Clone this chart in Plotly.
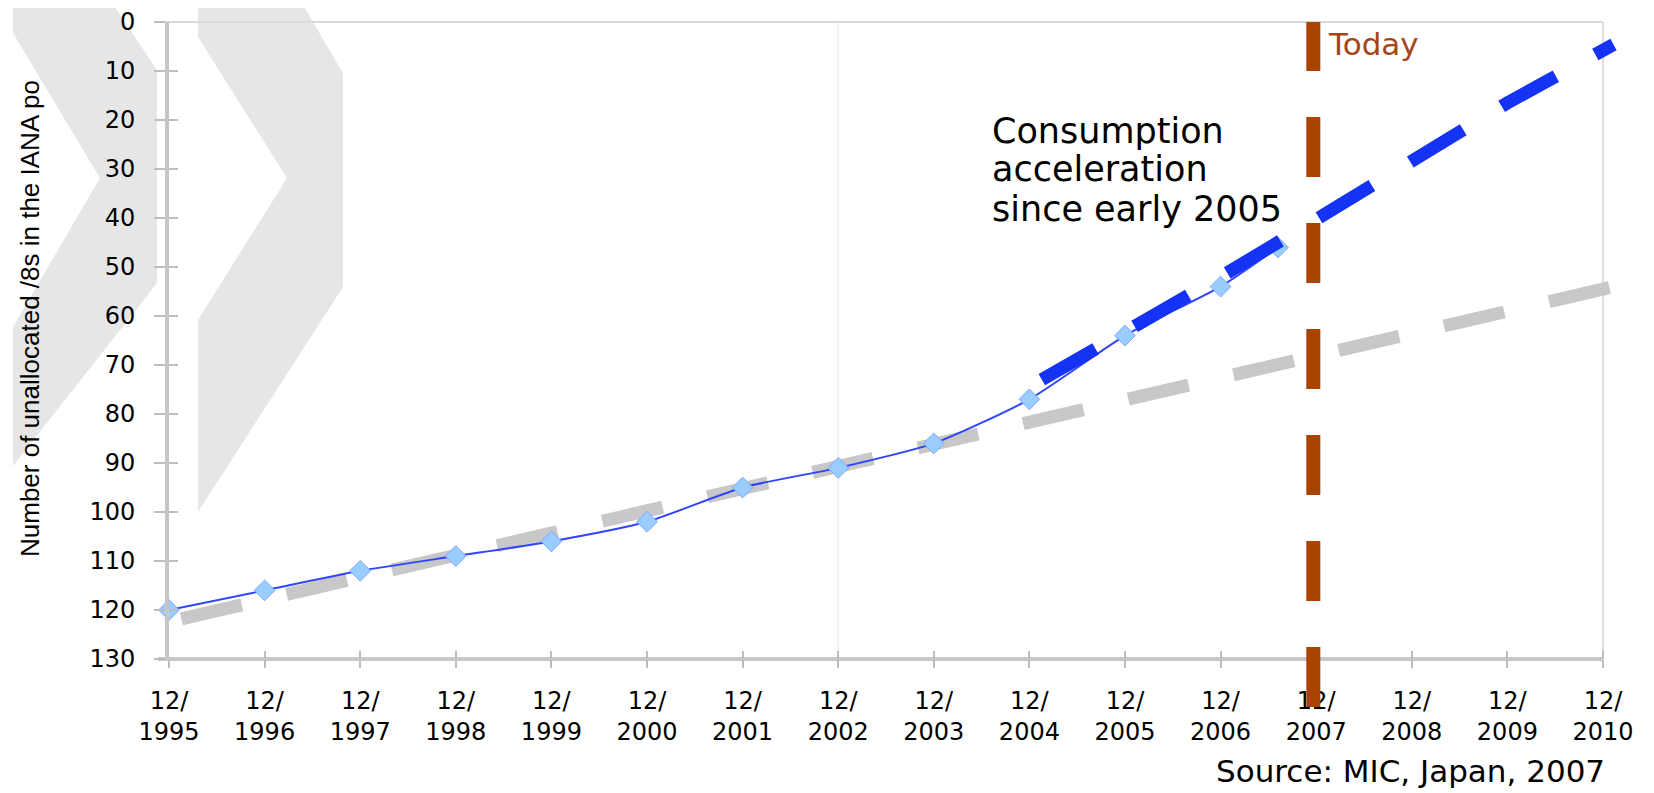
import plotly.graph_objects as go

# ---------------- data ----------------
years = [1995, 1996, 1997, 1998, 1999, 2000, 2001, 2002, 2003, 2004, 2005, 2006, 2006.6]
free_pool = [120, 116, 112, 109, 106, 102, 95, 91, 86, 77, 64, 54, 46]

accel_years = [2004.13, 2005, 2006, 2007, 2008, 2009, 2010.11]
accel_values = [73, 63.5, 52, 40.3, 28.5, 16.5, 4.6]

trend_years = [1995.13, 2010.4]
trend_values = [121.8, 52.7]

today_year = 2006.97

tick_years = list(range(1995, 2011))
tick_labels = [f"12/<br>{y}" for y in tick_years]
y_ticks = list(range(0, 131, 10))

# ---------------- geometry ----------------
OFF = 8                      # default body margin of the page
IMG_W, IMG_H = 1654 - OFF, 793 - OFF
L, T = 169 - OFF, 22 - OFF
PW, PH = 1477, 637
R = IMG_W - L - PW
B = IMG_H - T - PH
X_MIN, X_MAX = 1995, 2010.45


def px_x(sx):
    """screen x (px) -> paper x"""
    return (sx - OFF - L) / PW


def px_y(sy):
    """screen y (px, from top) -> paper y"""
    return (IMG_H - B - (sy - OFF)) / PH


def poly(pts):
    return "M " + " L ".join(f"{px_x(a):.5f},{px_y(b):.5f}" for a, b in pts) + " Z"


frame_right = (2010 - X_MIN) / (X_MAX - X_MIN)

chev1 = [(13, 0), (110, 0), (157, 70), (157, 283), (13, 466), (13, 327), (100, 178), (13, 33)]
chev2 = [(198, 0), (300, 0), (343, 73), (343, 287), (198, 512), (198, 320), (287, 178), (198, 37)]

shapes = [
    dict(type="path", path=poly(chev1), xref="paper", yref="paper",
         fillcolor="#E6E6E6", line=dict(width=0), layer="below"),
    dict(type="path", path=poly(chev2), xref="paper", yref="paper",
         fillcolor="#E6E6E6", line=dict(width=0), layer="below"),
    # faint gridline at 12/2002
    dict(type="line", xref="x", yref="paper", x0=2002, x1=2002, y0=0, y1=1,
         line=dict(color="#EDEDED", width=1.5), layer="below"),
    # frame top / right
    dict(type="line", xref="paper", yref="paper", x0=px_x(158), x1=frame_right, y0=1, y1=1,
         line=dict(color="#DADADA", width=2), layer="below"),
    dict(type="line", xref="paper", yref="paper", x0=frame_right, x1=frame_right, y0=0, y1=1,
         line=dict(color="#DDDDDD", width=2), layer="below"),
    # x axis line (stops at 12/2010)
    dict(type="line", xref="paper", yref="paper", x0=px_x(158), x1=frame_right, y0=0, y1=0,
         line=dict(color="#C8C8C8", width=4), layer="below"),
    # Today line
    dict(type="line", xref="x", yref="paper", x0=today_year, x1=today_year,
         y0=px_y(707), y1=1, line=dict(color="#A84300", width=14, dash="60px,46px"),
         layer="above"),
]

fig = go.Figure()

fig.add_trace(go.Scatter(
    x=trend_years, y=trend_values, mode="lines",
    line=dict(color="#C8C8C8", width=13, dash="62px,46px"),
    hoverinfo="skip", showlegend=False))

fig.add_trace(go.Scatter(
    x=years, y=free_pool, mode="lines+markers",
    line=dict(color="#2F45FF", width=2, shape="spline", smoothing=0.6),
    marker=dict(symbol="diamond", size=16, color="#99CCFF",
                line=dict(color="#7FA8FF", width=1)),
    cliponaxis=False, showlegend=False))

fig.add_trace(go.Scatter(
    x=accel_years, y=accel_values, mode="lines",
    line=dict(color="#1433F5", width=13, dash="62px,45px"),
    hoverinfo="skip", showlegend=False))

# dummy trace that carries the overlay axes (inner halves of the crossing ticks)
fig.add_trace(go.Scatter(x=[None], y=[None], xaxis="x2", yaxis="y2",
                         showlegend=False, hoverinfo="skip"))

tick_font = dict(family="DejaVu Sans", size=24, color="#000000")

annotations = [
    dict(text="Number of unallocated /8s in the IANA po", xref="paper", yref="paper",
         x=px_x(30), y=px_y(319), textangle=-90, showarrow=False,
         xanchor="center", yanchor="middle",
         font=dict(family="Liberation Sans", size=26, color="#000000")),
    dict(text="Today", xref="paper", yref="paper", x=px_x(1326), y=px_y(44),
         xanchor="left", yanchor="middle", showarrow=False,
         font=dict(family="DejaVu Sans", size=31, color="#A5461A")),
    dict(text="Consumption", xref="paper", yref="paper", x=px_x(990), y=px_y(131),
         xanchor="left", yanchor="middle", showarrow=False,
         font=dict(family="DejaVu Sans", size=35, color="#000000")),
    dict(text="acceleration", xref="paper", yref="paper", x=px_x(990), y=px_y(169),
         xanchor="left", yanchor="middle", showarrow=False,
         font=dict(family="DejaVu Sans", size=35, color="#000000")),
    dict(text="since early 2005", xref="paper", yref="paper", x=px_x(990), y=px_y(209),
         xanchor="left", yanchor="middle", showarrow=False,
         font=dict(family="DejaVu Sans", size=35, color="#000000")),
    dict(text="Source: MIC, Japan, 2007", xref="paper", yref="paper", x=px_x(1607), y=px_y(771),
         xanchor="right", yanchor="middle", showarrow=False,
         font=dict(family="DejaVu Sans", size=31, color="#000000")),
]

fig.update_layout(
    width=IMG_W, height=IMG_H,
    margin=dict(l=L, r=R, t=T, b=B, pad=0),
    paper_bgcolor="#FFFFFF", plot_bgcolor="rgba(0,0,0,0)",
    showlegend=False,
    shapes=shapes, annotations=annotations,
    xaxis=dict(range=[X_MIN, X_MAX], tickmode="array", tickvals=tick_years, ticktext=tick_labels,
               ticks="outside", ticklen=8, tickwidth=2, tickcolor="#BDBDBD",
               showgrid=False, zeroline=False, showline=False, tickfont=tick_font,
               ticklabelstandoff=12, automargin=False, fixedrange=True),
    yaxis=dict(range=[130, 0], tickmode="array", tickvals=y_ticks,
               ticks="outside", ticklen=11, tickwidth=2, tickcolor="#BDBDBD",
               showline=True, linecolor="#C6C6C6", linewidth=4,
               showgrid=False, zeroline=False, tickfont=tick_font,
               ticklabelstandoff=14, automargin=False, fixedrange=True),
    xaxis2=dict(range=[X_MIN, X_MAX], overlaying="x", anchor="y2", tickmode="array",
                tickvals=tick_years, ticks="inside", ticklen=8, tickwidth=2, tickcolor="#BDBDBD",
                showticklabels=False, showgrid=False, zeroline=False, showline=False,
                fixedrange=True),
    yaxis2=dict(range=[130, 0], overlaying="y", anchor="x2", tickmode="array", tickvals=y_ticks,
                ticks="inside", ticklen=9, tickwidth=2, tickcolor="#BDBDBD",
                showticklabels=False, showgrid=False, zeroline=False, showline=False,
                fixedrange=True),
)

fig.write_html("out.html")
